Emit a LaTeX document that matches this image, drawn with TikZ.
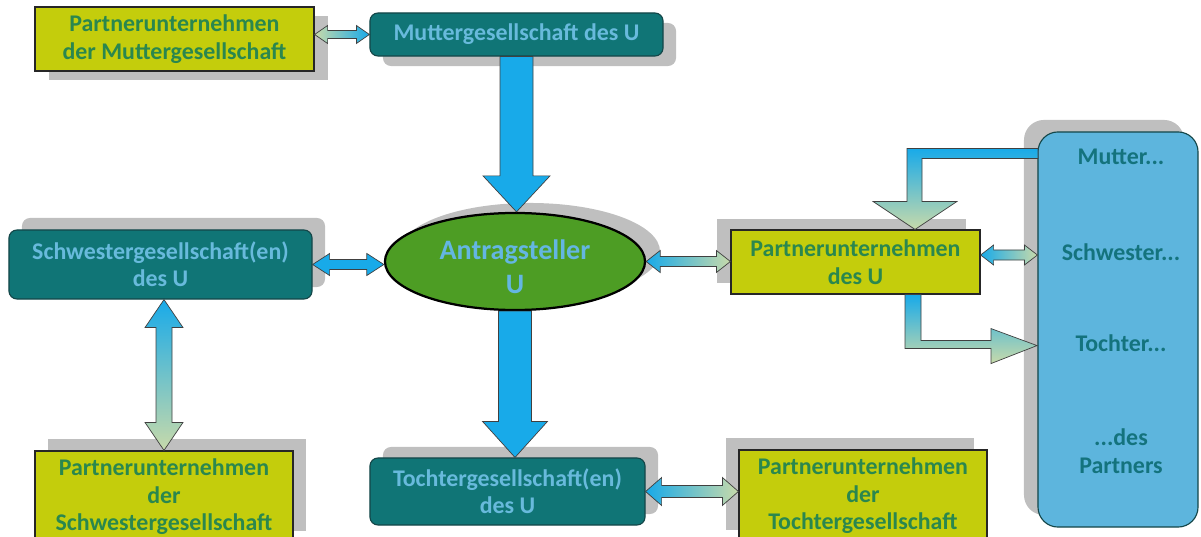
\documentclass[tikz,border=0pt]{standalone}
\usepackage{fontspec}
\setmainfont{Carlito}
\usetikzlibrary{calc,shapes.geometric,shadows}

\definecolor{limefill}{RGB}{196,205,12}
\definecolor{limetext}{RGB}{42,135,78}
\definecolor{tealfill}{RGB}{16,117,118}
\definecolor{tealline}{RGB}{20,70,72}
\definecolor{tealtext}{RGB}{104,186,220}
\definecolor{antfill}{RGB}{77,157,36}
\definecolor{anttext}{RGB}{100,182,226}
\definecolor{arrblue}{RGB}{24,170,233}
\definecolor{arrgreen}{RGB}{200,218,170}
\definecolor{pafill}{RGB}{93,181,221}
\definecolor{patext}{RGB}{20,115,125}
\definecolor{shadowgrey}{RGB}{191,191,191}

\tikzset{
  txt/.style={font=\bfseries\fontsize{17}{19.5}\selectfont, align=center},
  ybox/.style={txt, draw=black!85, line width=0.8pt, fill=limefill, text=limetext},
  tbox/.style={txt, draw=tealline, line width=0.8pt, fill=tealfill, rounded corners=0.2cm, text=tealtext},
  shd/.style 2 args={general shadow={fill=shadowgrey, shadow xshift=#1, shadow yshift=#2}},
  blk/.style={draw=black!75, line width=0.5pt},
}

% double arrow, left tip #1, right tip #2 (at the height of #1)
\newcommand\hdarrow[6]{%
  \path[blk,#6] (#1) -- ($(#1)+(#3,-#4)$) -- ($(#1)+(#3,-#5)$)
    -- ($(#2 |- #1)+(-#3,-#5)$) -- ($(#2 |- #1)+(-#3,-#4)$) -- (#2 |- #1)
    -- ($(#2 |- #1)+(-#3,#4)$) -- ($(#2 |- #1)+(-#3,#5)$)
    -- ($(#1)+(#3,#5)$) -- ($(#1)+(#3,#4)$) -- cycle;}
% double arrow, top tip #1, bottom tip #2 (in the line of #2)
\newcommand\vdarrow[6]{%
  \path[blk,#6] (#2 |- #1) -- ($(#2 |- #1)+(#4,#3)$) -- ($(#2 |- #1)+(#5,#3)$)
    -- ($(#2)+(#5,-#3)$) -- ($(#2)+(#4,-#3)$) -- (#2)
    -- ($(#2)+(-#4,-#3)$) -- ($(#2)+(-#5,-#3)$)
    -- ($(#2 |- #1)+(-#5,#3)$) -- ($(#2 |- #1)+(-#4,#3)$) -- cycle;}
% single arrow downwards from #1 to #2
\newcommand\dnarrow[6]{%
  \path[blk,#6] ($(#1)+(-#5,0)$) -- ($(#1)+(#5,0)$) -- ($(#1 |- #2)+(#5,-#3)$)
    -- ($(#1 |- #2)+(#4,-#3)$) -- (#1 |- #2) -- ($(#1 |- #2)+(-#4,-#3)$)
    -- ($(#1 |- #2)+(-#5,-#3)$) -- cycle;}

\begin{document}
\begin{tikzpicture}[x=0.025cm,y=-0.025cm]
\useasboundingbox (0,0) rectangle (1201,537);

% boxes
\node[ybox, shd={.35cm}{-.225cm}, minimum width=6.975cm, minimum height=1.6cm] (pm) at (174.5,39) {Partnerunternehmen\\der Muttergesellschaft};
\node[tbox, shd={.325cm}{-.25cm}, minimum width=7.325cm, minimum height=1.075cm] (mg) at (516.5,34.5) {Muttergesellschaft des U};
\node[tbox, shd={.325cm}{.3cm}, minimum width=7.575cm, minimum height=1.725cm] (sg) at (160.5,264.5) {Schwestergesellschaft(en)\\des U};
\node[ellipse, shd={.375cm}{.25cm}, draw=black, line width=1.6pt, fill=antfill, text=anttext, align=center,
  font=\bfseries\fontsize{20}{23.5}\selectfont, inner sep=0pt, minimum width=6.5cm, minimum height=2.425cm] (ant) at (515,261.5) {\rule{0pt}{21.5pt}Antragsteller\\U};
\node[ybox, shd={.325cm}{.3cm}, minimum width=6.45cm, minimum height=2.3cm] (ps) at (164,497) {Partnerunternehmen\\der\\Schwestergesellschaft};
\node[tbox, shd={.325cm}{.275cm}, minimum width=6.875cm, minimum height=1.675cm] (tg) at (507.5,491.5) {Tochtergesellschaft(en)\\des U};
\node[ybox, shd={-.325cm}{.3cm}, minimum width=6.2cm, minimum height=2.3cm] (pt) at (863,496) {Partnerunternehmen\\der\\Tochtergesellschaft};
\node[ybox, shd={-.35cm}{.275cm}, minimum width=6.225cm, minimum height=1.6cm] (pu) at (855.5,262) {Partnerunternehmen\\des U};
\node[shd={-.35cm}{.3cm}, draw=tealline, line width=0.8pt, fill=pafill, rounded corners=0.5cm,
  minimum width=4cm, minimum height=9.875cm] (pa) at (1118,329.5) {};
\node[txt, text=patext] (pa1) at (1121,157) {Mutter...};
\node[txt, text=patext] (pa2) at (1121,252) {Schwester...};
\node[txt, text=patext] (pa3) at (1121,343) {Tochter...};
\node[txt, text=patext] (pa4) at (1121,451) {...des\\Partners};

% arrows
\coordinate (pmx) at (pm.east |- mg.west);
\coordinate (pux) at ($(pu.east)+(0,-7)$);
\hdarrow{pmx}{mg.west}{13}{9}{4}{left color=arrgreen, right color=arrblue}
\dnarrow{mg.south}{ant.north}{36}{33.5}{16.5}{fill=arrblue}
\hdarrow{sg.east}{ant.west}{17}{11}{5}{fill=arrblue}
\vdarrow{sg.south}{ps.north}{28}{19}{8}{top color=arrblue, bottom color=arrgreen}
\dnarrow{ant.south}{tg.north}{36}{32.5}{16.5}{fill=arrblue}
\hdarrow{ant.east}{pu.west}{14}{11}{5}{left color=arrblue, right color=arrgreen}
\hdarrow{pux}{pa.west}{13}{10}{5}{left color=arrblue, right color=arrgreen}
\hdarrow{tg.east}{pt.west}{16}{14}{6}{left color=arrblue, right color=arrgreen}
\path[blk, top color=arrblue, bottom color=arrgreen] ($(pu.north)+(59.5,0)$) -- ++(42,-28) -- ++(-35,0) -- ++(0,-43)
  -- ++(116,0) -- ++(0,-10) -- ++(-131,0) -- ++(0,53) -- ++(-34,0) -- cycle;
\path[blk, top color=arrblue, bottom color=arrgreen] ($(pu.south)+(49.5,0)$) -- ++(16,0) -- ++(0,46) -- ++(70,0)
  -- ++(0,-12) -- ++(46,17) -- ++(-46,18) -- ++(0,-15) -- ++(-86,0) -- cycle;
\end{tikzpicture}
\end{document}
